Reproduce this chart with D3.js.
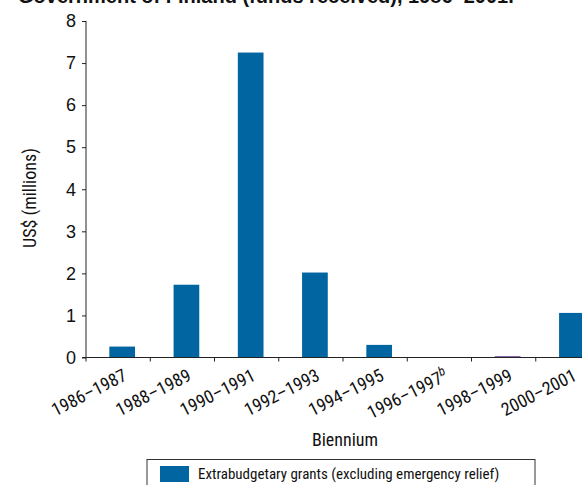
<html>
<head>
<meta charset="utf-8">
<style>
  body { margin: 0; background: #fff; }
  text { font-family: "Liberation Sans Narrow", "Roboto Condensed", "DejaVu Sans Condensed", sans-serif; fill: #111; }
</style>
</head>
<body>
<svg id="container" width="582" height="485"></svg>
<script src="https://cdn.jsdelivr.net/npm/d3@7"></script>
<script>
    // data
    let categories = ["1986–1987", "1988–1989", "1990–1991", "1992–1993", "1994–1995", "1996–1997", "1998–1999", "2000–2001"]
    let grants = [0.26, 1.73, 7.25, 2.02, 0.30, 0, 0.03, 1.06]
    let barColors = ["#0065a0", "#0065a0", "#0065a0", "#0065a0", "#0065a0", "#0065a0", "#6a3d92", "#0065a0"]
    let yTicks = [0, 1, 2, 3, 4, 5, 6, 7, 8]

    let svg = d3.select("#container")

    let x = d3.scaleBand().domain(categories).range([86, 600]).padding(0)
    let y = d3.scaleLinear().domain([0, 8]).range([357.5, 21])

    // title, mostly cut off at the top (as in the source)
    svg.append("text")
        .attr("x", 18).attr("y", 3)
        .style("font-family", "Liberation Sans, Arial, sans-serif")
        .style("font-weight", "bold")
        .style("font-size", "20px")
        .text("Government of Finland (funds received), 1986–2001.")

    // bars
    let step = x.step()
    svg.selectAll("rect.bar")
        .data(grants)
        .enter().append("rect")
        .attr("class", "bar")
        .attr("x", (d, i) => x(categories[i]) + step * 0.363)
        .attr("width", step * 0.4)
        .attr("y", d => y(d))
        .attr("height", d => y(0) - y(d))
        .attr("fill", (d, i) => barColors[i])

    // y axis
    let yAxis = svg.append("g")
        .attr("transform", "translate(86,0)")
        .call(d3.axisLeft(y).tickValues(yTicks).tickSize(4).tickFormat(d3.format("d")))
    yAxis.select(".domain").attr("stroke", "#222").attr("d", "M0," + y(8) + "V" + y(0))
    yAxis.selectAll(".tick line").attr("stroke", "#222")
    yAxis.selectAll(".tick text")
        .attr("x", -10)
        .style("font-size", "18px")
        .style("font-family", "Liberation Sans Narrow, sans-serif")
        .attr("fill", "#111")

    // x axis
    let xAxis = svg.append("g")
        .attr("transform", "translate(0," + y(0) + ")")
    xAxis.append("line")
        .attr("x1", 82).attr("x2", 600).attr("y1", 0).attr("y2", 0)
        .attr("stroke", "#222")
    xAxis.selectAll("line.tick")
        .data(categories)
        .enter().append("line")
        .attr("class", "tick")
        .attr("x1", d => x(d)).attr("x2", d => x(d))
        .attr("y1", 0).attr("y2", 4)
        .attr("stroke", "#222")

    let labels = xAxis.selectAll("text.lab")
        .data(categories)
        .enter().append("text")
        .attr("class", "lab")
        .attr("text-anchor", "end")
        .attr("transform", d => "translate(" + (x(d) + step / 2 + 10) + ",22) rotate(-27)")
        .style("font-size", "18px")
    labels.append("tspan").text(d => d)
    labels.filter(d => d === "1996–1997").append("tspan")
        .attr("dy", "-0.5em")
        .style("font-size", "13px")
        .style("font-style", "italic")
        .text("b")

    // axis titles
    svg.append("text")
        .attr("transform", "translate(36,198) rotate(-90)")
        .attr("text-anchor", "middle")
        .style("font-size", "18px")
        .text("US$ (millions)")
    svg.append("text")
        .attr("x", 345).attr("y", 446)
        .attr("text-anchor", "middle")
        .style("font-size", "18px")
        .text("Biennium")

    // legend
    let legend = svg.append("g")
    legend.append("rect")
        .attr("x", 147).attr("y", 459.5).attr("width", 388).attr("height", 40)
        .attr("fill", "none").attr("stroke", "#333")
    legend.append("rect")
        .attr("x", 160).attr("y", 466).attr("width", 29).attr("height", 16)
        .attr("fill", barColors[0])
    legend.append("text")
        .attr("x", 198).attr("y", 479)
        .style("font-size", "15px")
        .text("Extrabudgetary grants (excluding emergency relief)")
</script>
</body>
</html>
